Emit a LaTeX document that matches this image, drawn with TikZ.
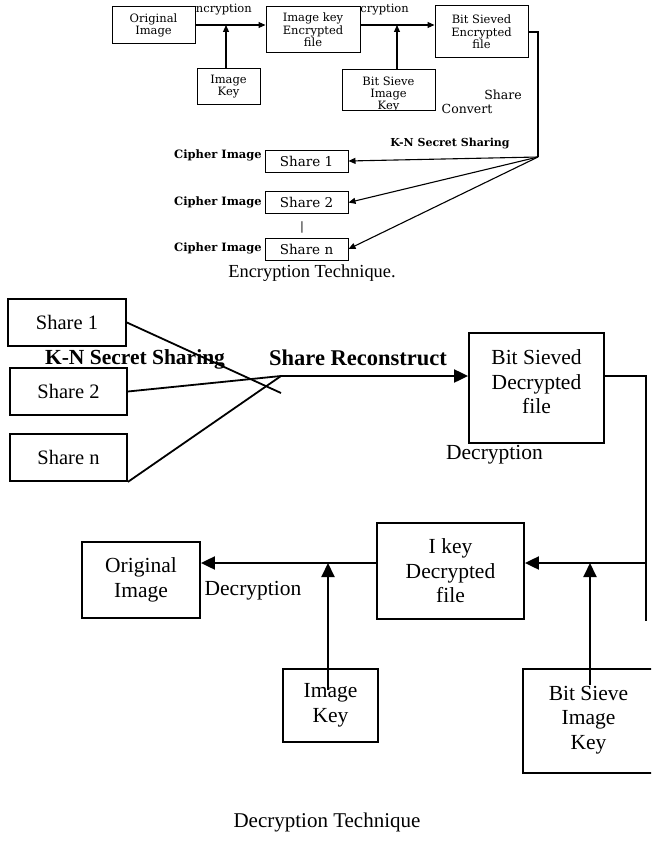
\documentclass[tikz,border=0pt]{standalone}
\usepackage{fontspec}
\setmainfont{Liberation Serif}
\newfontfamily\topfont{DejaVu Serif}
\usetikzlibrary{arrows.meta}
\tikzset{
  tlab/.style={inner sep=0pt, font=\topfont\fontsize{11.5}{13}\selectfont},
  tbold/.style={inner sep=0pt, font=\topfont\bfseries\fontsize{11.5}{13}\selectfont},
  tbox/.style={draw, fill=white, line width=1pt, inner sep=0pt, align=center,
                font=\topfont\fontsize{11.5}{12.5}\selectfont},
  tshare/.style={tbox, minimum width=83pt, minimum height=22pt,
                font=\topfont\fontsize{13.5}{15}\selectfont},
  tarrow/.style={line width=1.1pt, -{Triangle[length=7pt,width=6pt]}},
  tline/.style={line width=1.1pt},
  bbox/.style={draw, fill=white, line width=1.8pt, inner sep=0pt, align=center,
                font=\fontsize{21.5}{24.5}\selectfont},
  bshare/.style={bbox, font=\fontsize{20.5}{24}\selectfont},
  blab/.style={inner sep=0pt, font=\fontsize{21.5}{24}\selectfont},
  bbold/.style={inner sep=0pt, font=\bfseries\fontsize{21.5}{24}\selectfont},
  barrow/.style={line width=2pt, -{Triangle[length=14pt,width=13pt]}},
  bline/.style={line width=1.8pt},
}
\begin{document}
\begin{tikzpicture}[x=1pt,y=-1pt]
\path[use as bounding box] (0,0) rectangle (651,843);
\clip (0,0) rectangle (651,843);

% ---------- Encryption (top) ----------
\begin{scope}
  \clip (195.5,0) rectangle (265,20);
  \node[tlab, anchor=east] (enc1) at (252,10) {Encryption};
\end{scope}
\begin{scope}
  \clip (361,0) rectangle (430,20);
  \node[tlab, anchor=east] (enc2) at (409,10) {Encryption};
\end{scope}

\node[tbox, minimum width=83pt, minimum height=37pt] (oi) at (153.5,25.5) {Original\\Image};
\node[tbox, minimum width=63pt, minimum height=35pt] (ik) at (228.5,86.5) {Image\\Key};
\node[tbox, minimum width=94pt, minimum height=46pt] (ike) at (313,30) {Image key\\Encrypted\\file};
\node[tbox, minimum width=93pt, minimum height=52pt] (bse) at (481.5,32) {Bit Sieved\\Encrypted\\file};
\node[tbox, minimum width=93pt, minimum height=40pt] (bsk) at (388.5,90) {};
\begin{scope}
  \clip (344,71) rectangle (433,109.4);
  \node[tlab, align=center, font=\topfont\fontsize{11.5}{12}\selectfont] (bsktext) at (388.5,95) {Bit Sieve\\Image\\Key};
\end{scope}

\node[tlab, font=\topfont\fontsize{12.5}{14}\selectfont] (share) at (503,95) {Share};
\node[tlab, font=\topfont\fontsize{12.5}{14}\selectfont] (convert) at (467,109) {Convert};
\node[tbold, font=\topfont\bfseries\fontsize{11}{13}\selectfont] (kn1) at (450,144) {K-N Secret Sharing};

\node[tshare] (s1t) at (306.5,161) {Share 1};
\node[tshare] (s2t) at (306.5,202.5) {Share 2};
\node[tshare] (snt) at (306.5,249) {Share n};
\node[tlab] (dots) at (302,227) {|};

\node[tbold, anchor=east] (c1) at (262,155) {Cipher Image};
\node[tbold, anchor=east] (c2) at (262,202) {Cipher Image};
\node[tbold, anchor=east] (c3) at (262,248) {Cipher Image};

\coordinate (ay) at (0,25);
\coordinate (iktop) at (226,69);
\coordinate (bsktop) at (397,70);
\coordinate (src) at (538,157);

\draw[tarrow] (oi.east |- ay) -- (ike.west |- ay);
\draw[tarrow] (ike.east |- ay) -- (bse.west |- ay);
\draw[tarrow] (iktop) -- (iktop |- ay);
\draw[tarrow] (bsktop) -- (bsktop |- ay);
\draw[tline] (bse.east) -| (src);
\draw[tarrow] (src) -- (s1t.east);
\draw[tarrow] (src) -- (s2t.east);
\draw[tarrow] (src) -- (snt.east);

\node[font=\fontsize{18.4}{22}\selectfont, inner sep=0pt] (t1) at (312,273) {Encryption Technique.};

% ---------- Decryption (bottom) ----------
\node[bshare, minimum width=118pt, minimum height=47pt] (s1) at (67,322.5) {Share 1};
\node[bshare, minimum width=117pt, minimum height=47pt] (s2) at (68.5,391.5) {Share 2};
\node[bshare, minimum width=117pt, minimum height=47pt] (sn) at (68.5,457.5) {Share n};

\node[bbold] (kn2) at (135,359) {K-N Secret Sharing};
\node[bbold, font=\bfseries\fontsize{22.5}{25}\selectfont] (rec) at (358,358) {Share Reconstruct};

\node[bbox, minimum width=135pt, minimum height=110pt] (bsd) at (536.5,388) {Bit Sieved\\Decrypted\\file\\[-12pt]};
\node[blab] (dec1) at (494.5,455) {Decryption};

\node[bbox, minimum width=147pt, minimum height=96pt] (ikd) at (450.5,571) {I key\\Decrypted\\file};
\node[bbox, minimum width=118pt, minimum height=76pt] (oi2) at (141,580) {Original\\Image};
\node[blab] (dec2) at (253,591) {Decryption};
\node[bbox, minimum width=95pt, minimum height=73pt] (ik2) at (330.5,705.5) {Image\\Key};
\node[bbox, minimum width=142pt, minimum height=104pt] (bsk2) at (594,721) {};
\node[blab, align=center, font=\fontsize{21.5}{24.5}\selectfont] (bsk2text) at (588.5,720) {Bit Sieve\\Image\\Key};

\coordinate (j) at (281,376);
\coordinate (c1end) at (281,393);
\coordinate (rb) at (646,621);
\coordinate (ay2) at (0,563);
\coordinate (ik2s) at (328,690);
\coordinate (bsk2s) at (590,685);

\draw[bline] (s1.east) -- (c1end);
\draw[bline] (s2.east) -- (j);
\draw[bline] (sn.south east) -- (j);
\draw[barrow] (j) -- (j -| bsd.west);
\draw[bline] (bsd.east |- j) -| (rb);
\draw[barrow] (rb |- ay2) -- (ikd.east |- ay2);
\draw[barrow] (ikd.west |- ay2) -- (oi2.east |- ay2);
\draw[barrow] (ik2s) -- (ik2s |- ay2);
\draw[barrow] (bsk2s) -- (bsk2s |- ay2);

\node[font=\fontsize{21}{25}\selectfont, inner sep=0pt] (t2) at (327,822) {Decryption Technique};
\end{tikzpicture}
\end{document}
